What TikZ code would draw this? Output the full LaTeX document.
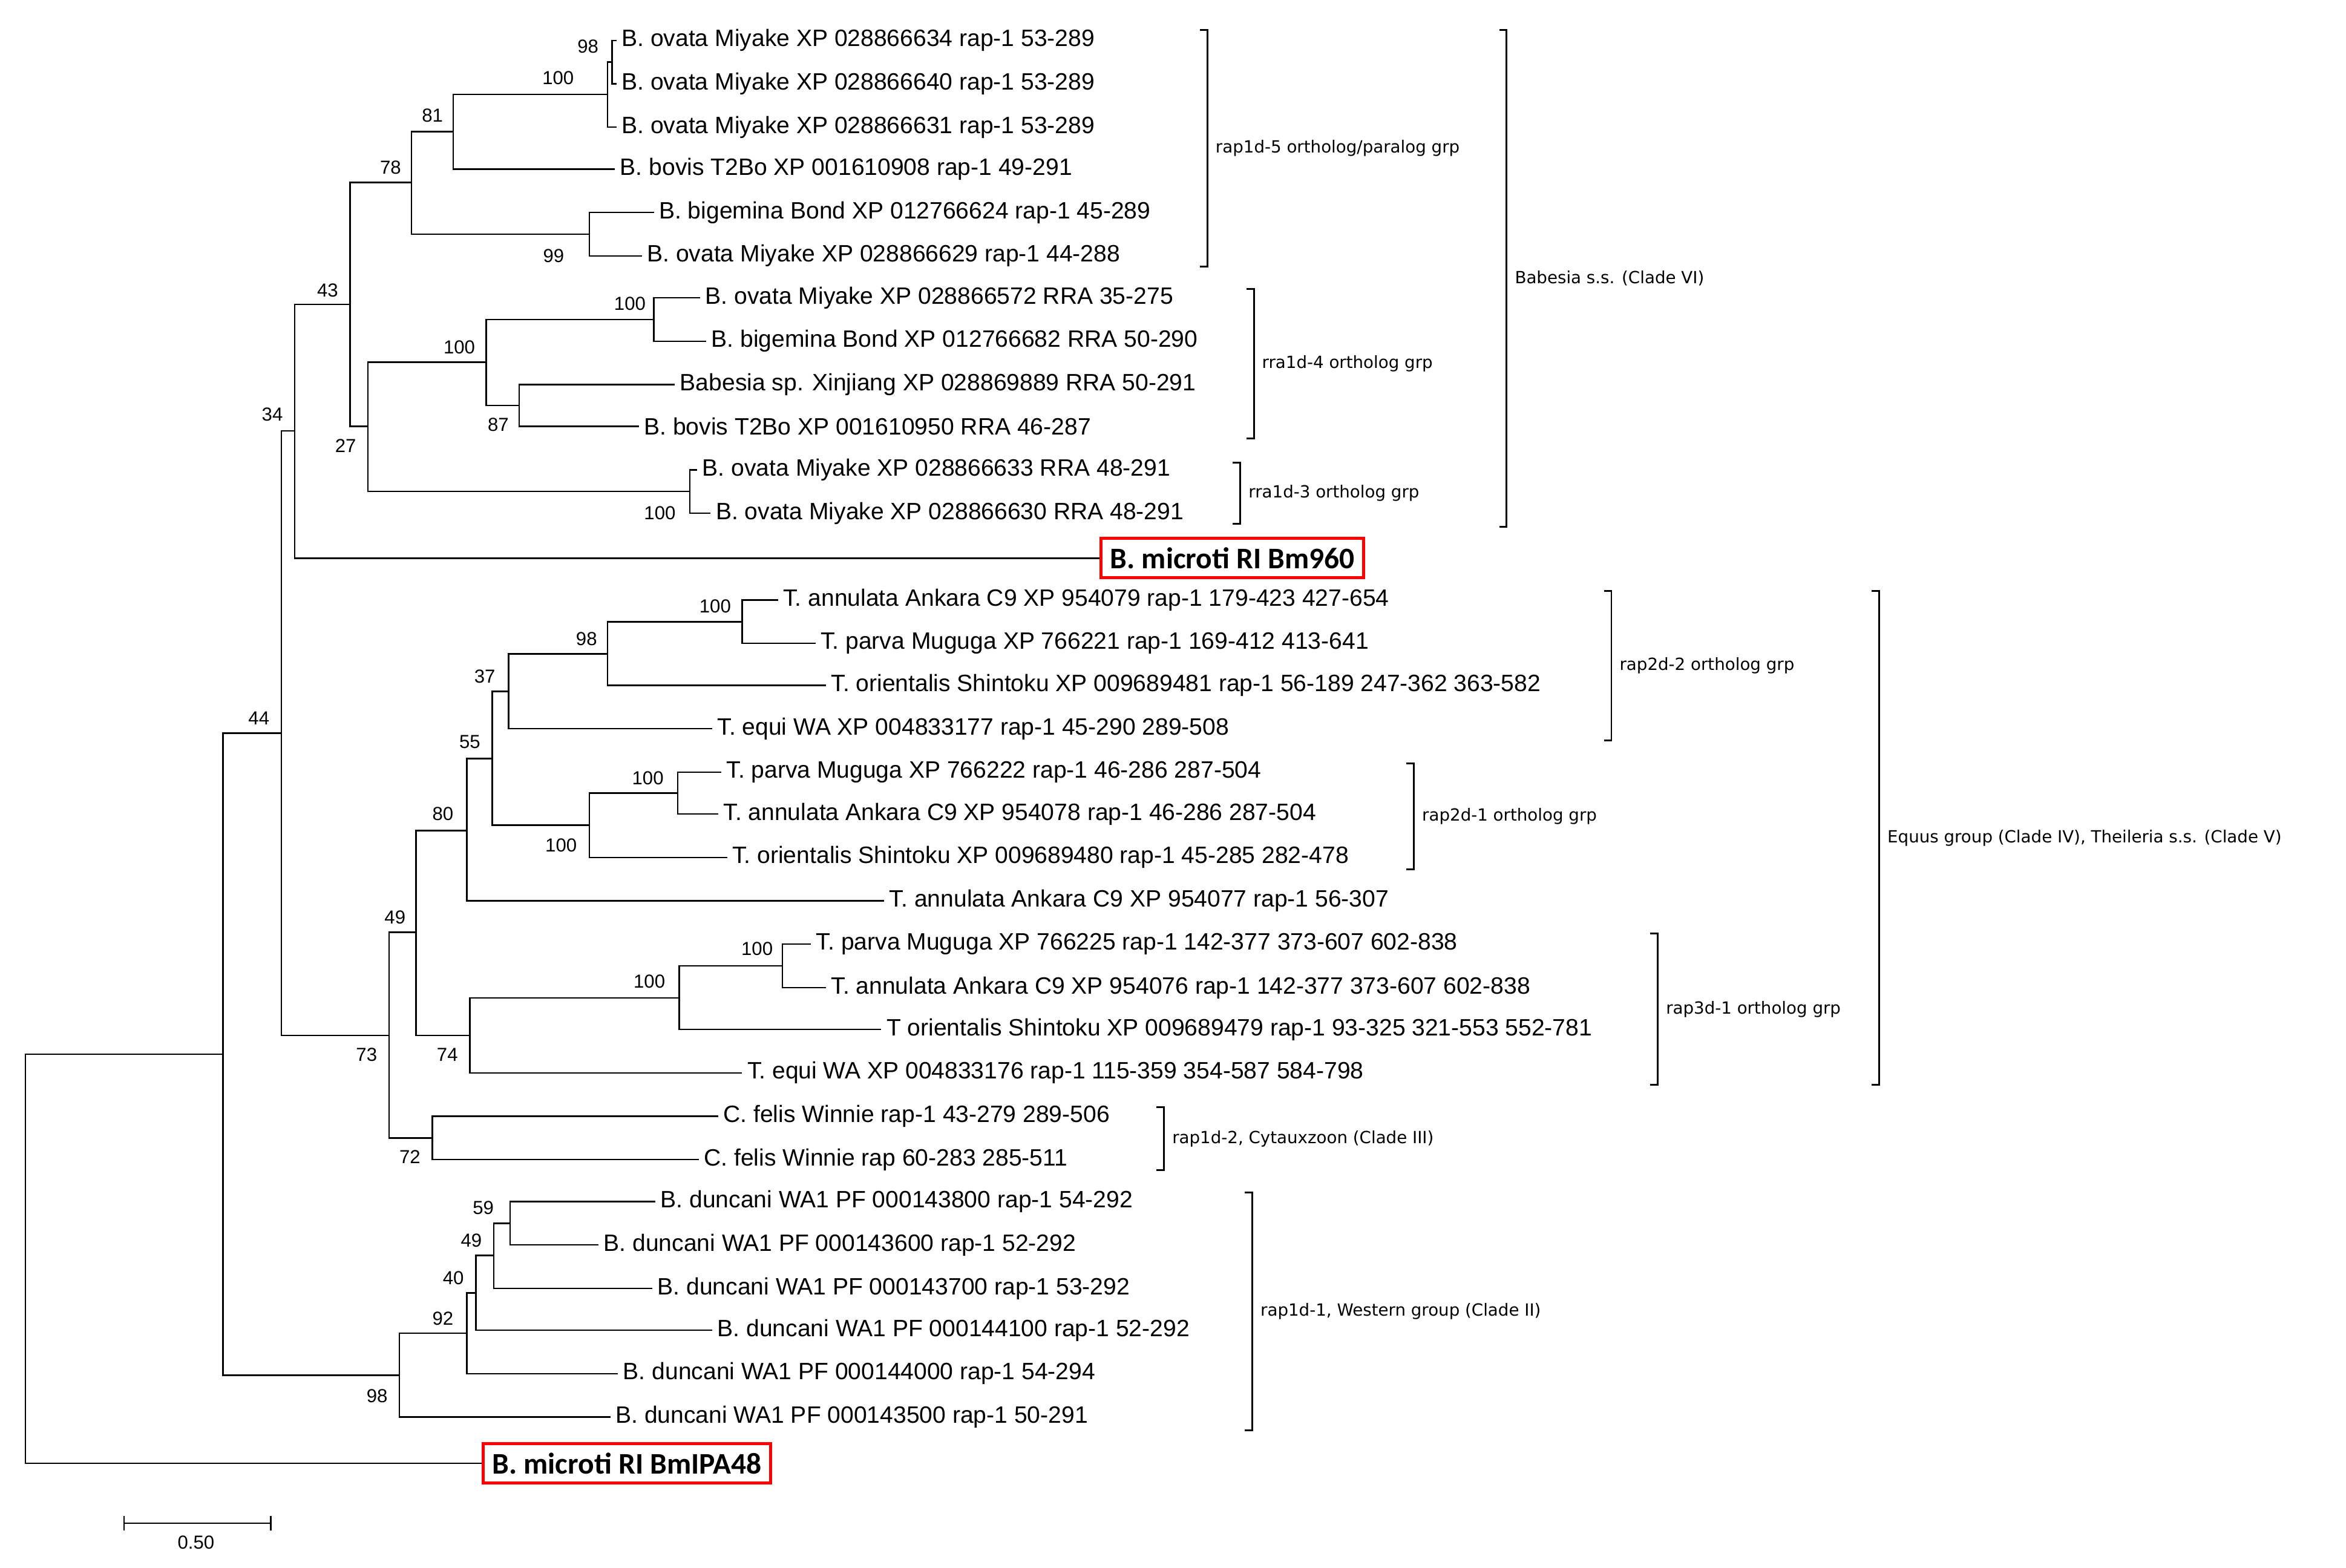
\documentclass[tikz,border=0pt]{standalone}
\usepackage{fontspec}
\setmainfont{Liberation Sans}
\newfontfamily\brfont{DejaVu Sans}
\newfontfamily\boxfont{Carlito}
\begin{document}
\begin{tikzpicture}[x=0.5pt,y=0.5pt,line width=0.5pt,
  leaf/.style={anchor=west,inner sep=1.5pt,font=\fontsize{7.9}{9}\selectfont},
  bs/.style={font=\fontsize{6.3}{7}\selectfont,inner sep=0pt},
  brl/.style={anchor=west,font=\brfont\fontsize{5.6}{7}\selectfont,inner sep=0pt},
  redbox/.style={draw=red,line width=1pt,anchor=west,inner sep=3pt,minimum height=12pt,font=\boxfont\bfseries\fontsize{10}{12}\selectfont},
  br/.style={line width=0.6pt}]
\useasboundingbox (0,0) rectangle (1568,-1047.5);
\newcommand{\lf}[4]{\node[leaf] (#1) at (#2,-#3) {#4};}
\newcommand{\bsl}[3]{\node[bs] at (#1,-#2) {#3};}
\newcommand{\brk}[4]{\draw[br] (#1-5,-#2) -- (#1,-#2) -- (#1,-#3) -- (#1-5,-#3); \node[brl] at (#1+5,-#2/2-#3/2) {#4};}
% leaves
\lf{l1}{412}{27}{B. ovata Miyake XP 028866634 rap-1 53-289}
\lf{l2}{412}{56}{B. ovata Miyake XP 028866640 rap-1 53-289}
\lf{l3}{412}{85}{B. ovata Miyake XP 028866631 rap-1 53-289}
\lf{l4}{411}{113}{B. bovis T2Bo XP 001610908 rap-1 49-291}
\lf{l5}{437}{142}{B. bigemina Bond XP 012766624 rap-1 45-289}
\lf{l6}{429}{171}{B. ovata Miyake XP 028866629 rap-1 44-288}
\lf{l7}{468}{199}{B. ovata Miyake XP 028866572 RRA 35-275}
\lf{l8}{472}{228}{B. bigemina Bond XP 012766682 RRA 50-290}
\lf{l9}{451}{257}{Babesia sp. Xinjiang XP 028869889 RRA 50-291}
\lf{l10}{427}{285}{B. bovis T2Bo XP 001610950 RRA 46-287}
\lf{l11}{466}{314}{B. ovata Miyake XP 028866633 RRA 48-291}
\lf{l12}{475}{343}{B. ovata Miyake XP 028866630 RRA 48-291}
\node[redbox] (bm960) at (735,-373) {B. microti RI Bm960};
\lf{l13}{520}{401}{T. annulata Ankara C9 XP 954079 rap-1 179-423 427-654}
\lf{l14}{545}{430}{T. parva Muguga XP 766221 rap-1 169-412 413-641}
\lf{l15}{552}{458}{T. orientalis Shintoku XP 009689481 rap-1 56-189 247-362 363-582}
\lf{l16}{476}{487}{T. equi WA XP 004833177 rap-1 45-290 289-508}
\lf{l17}{482}{516}{T. parva Muguga XP 766222 rap-1 46-286 287-504}
\lf{l18}{480}{544}{T. annulata Ankara C9 XP 954078 rap-1 46-286 287-504}
\lf{l19}{486}{573}{T. orientalis Shintoku XP 009689480 rap-1 45-285 282-478}
\lf{l20}{591}{602}{T. annulata Ankara C9 XP 954077 rap-1 56-307}
\lf{l21}{542}{631}{T. parva Muguga XP 766225 rap-1 142-377 373-607 602-838}
\lf{l22}{552}{660}{T. annulata Ankara C9 XP 954076 rap-1 142-377 373-607 602-838}
\lf{l23}{589}{688}{T orientalis Shintoku XP 009689479 rap-1 93-325 321-553 552-781}
\lf{l24}{496}{717}{T. equi WA XP 004833176 rap-1 115-359 354-587 584-798}
\lf{l25}{480}{746}{C. felis Winnie rap-1 43-279 289-506}
\lf{l26}{467}{775}{C. felis Winnie rap 60-283 285-511}
\lf{l27}{438}{803}{B. duncani WA1 PF 000143800 rap-1 54-292}
\lf{l28}{400}{832}{B. duncani WA1 PF 000143600 rap-1 52-292}
\lf{l29}{436}{861}{B. duncani WA1 PF 000143700 rap-1 53-292}
\lf{l30}{476}{889}{B. duncani WA1 PF 000144100 rap-1 52-292}
\lf{l31}{413}{918}{B. duncani WA1 PF 000144000 rap-1 54-294}
\lf{l32}{408}{947}{B. duncani WA1 PF 000143500 rap-1 50-291}
\node[redbox] (ipa) at (322,-978) {B. microti RI BmIPA48};
% internal nodes
\coordinate (a98) at (409,-41.5);
\coordinate (a100) at (406,-63);
\coordinate (a81) at (303,-88);
\coordinate (a99) at (394,-156.5);
\coordinate (a78) at (275,-122);
\coordinate (b100) at (437,-213.5);
\coordinate (b87) at (347,-271);
\coordinate (b100b) at (325,-242);
\coordinate (c100) at (461,-328.5);
\coordinate (n27) at (246,-285);
\coordinate (n43) at (234,-203.5);
\coordinate (n34) at (197,-288);
\coordinate (t100a) at (496,-415.5);
\coordinate (t98) at (406,-437);
\coordinate (t37) at (340,-462);
\coordinate (t100b) at (453,-530);
\coordinate (t100c) at (394,-551.5);
\coordinate (t55) at (329,-507);
\coordinate (t80) at (312,-555);
\coordinate (t100d) at (523,-645.5);
\coordinate (t100e) at (454,-667);
\coordinate (t74) at (314,-692);
\coordinate (t49) at (278,-623);
\coordinate (c72) at (289,-760.5);
\coordinate (t73) at (260,-692);
\coordinate (n44) at (188,-490);
\coordinate (d59) at (341,-817.5);
\coordinate (d49) at (330,-839);
\coordinate (d40) at (318,-864);
\coordinate (d92) at (312,-891);
\coordinate (d98) at (267,-919);
\coordinate (r2) at (149,-704.5);
\coordinate (root) at (17,-841);
\foreach \p/\c in {a98/l1,a98/l2,a100/a98,a100/l3,a81/a100,a81/l4,a99/l5,a99/l6,a78/a81,a78/a99,
  b100/l7,b100/l8,b87/l9,b87/l10,b100b/b100,b100b/b87,c100/l11,c100/l12,n27/b100b,n27/c100,
  n43/a78,n43/n27,n34/n43,n34/bm960,
  t100a/l13,t100a/l14,t98/t100a,t98/l15,t37/t98,t37/l16,t100b/l17,t100b/l18,t100c/t100b,t100c/l19,
  t55/t37,t55/t100c,t80/t55,t80/l20,t100d/l21,t100d/l22,t100e/t100d,t100e/l23,t74/t100e,t74/l24,
  t49/t80,t49/t74,c72/l25,c72/l26,t73/t49,t73/c72,n44/n34,n44/t73,
  d59/l27,d59/l28,d49/d59,d49/l29,d40/d49,d40/l30,d92/d40,d92/l31,d98/d92,d98/l32,
  r2/n44,r2/d98,root/r2,root/ipa}
  \draw (\p) |- (\c);
% bootstrap labels
\bsl{393}{31}{98}\bsl{373}{52}{100}\bsl{289}{77}{81}\bsl{370}{171}{99}\bsl{261}{112}{78}
\bsl{421}{203}{100}\bsl{333}{284}{87}\bsl{307}{232}{100}\bsl{441}{343}{100}\bsl{231}{298}{27}
\bsl{219}{194}{43}\bsl{182}{277}{34}
\bsl{478}{405}{100}\bsl{392}{427}{98}\bsl{324}{452}{37}\bsl{433}{520}{100}\bsl{375}{565}{100}
\bsl{314}{496}{55}\bsl{296}{544}{80}\bsl{506}{634}{100}\bsl{434}{656}{100}\bsl{299}{705}{74}
\bsl{264}{613}{49}\bsl{274}{773}{72}\bsl{245}{705}{73}\bsl{173}{480}{44}
\bsl{323}{807}{59}\bsl{315}{829}{49}\bsl{303}{854}{40}\bsl{296}{881}{92}\bsl{252}{933}{98}
% scale bar
\draw (83,-1018) -- (181,-1018);
\draw (83,-1013) -- (83,-1023); \draw (181,-1013) -- (181,-1023);
\node[bs] at (131,-1031) {0.50};
% brackets
\brk{807}{20}{178}{rap1d-5 ortholog/paralog grp}
\brk{838}{193}{293}{rra1d-4 ortholog grp}
\brk{829}{309}{350}{rra1d-3 ortholog grp}
\brk{1007}{20}{352}{Babesia s.s. (Clade VI)}
\brk{1077}{395}{495}{rap2d-2 ortholog grp}
\brk{945}{510}{581}{rap2d-1 ortholog grp}
\brk{1108}{624}{725}{rap3d-1 ortholog grp}
\brk{1256}{395}{725}{Equus group (Clade IV), Theileria s.s. (Clade V)}
\brk{778}{740}{782}{rap1d-2, Cytauxzoon (Clade III)}
\brk{837}{797}{956}{rap1d-1, Western group (Clade II)}
\end{tikzpicture}
\end{document}
